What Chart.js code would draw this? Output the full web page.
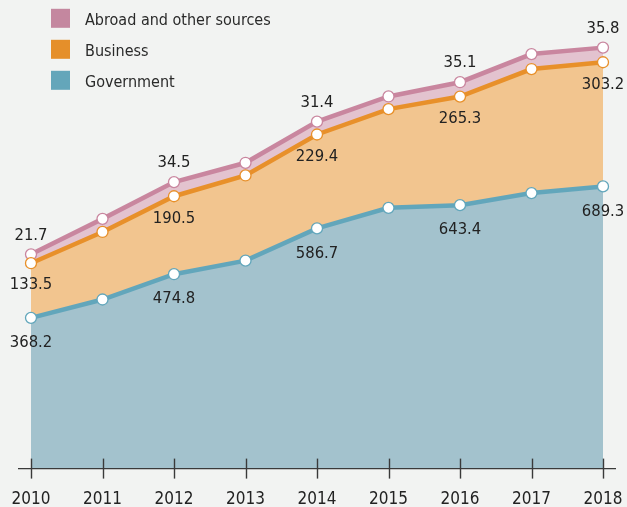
<!DOCTYPE html>
<html><head><meta charset="utf-8">
<style>html,body{margin:0;padding:0;background:#f2f3f2;} #wrap{width:627px;height:507px;position:relative;}</style>
<script src="https://cdn.jsdelivr.net/npm/chart.js@4.4.1/dist/chart.umd.min.js"></script>
</head><body><div id="wrap"><canvas id="c" width="627" height="507"></canvas></div>
<script>
const years = ['2010','2011','2012','2013','2014','2015','2016','2017','2018'];
const government = [368.2, 413, 474.8, 508, 586.7, 637, 643.4, 673, 689.3];
const business = [133.5, 165, 190.5, 208, 229.4, 241, 265.3, 303, 303.2];
const abroad = [21.7, 32, 34.5, 31, 31.4, 31, 35.1, 36.5, 35.8];
const seriesNames = ['Government', 'Business', 'Abroad and other sources'];
const labeledIdx = [0, 2, 4, 6, 8];

const FONT = "'Liberation Sans Narrow', 'DejaVu Sans Condensed', 'Liberation Sans', sans-serif";
const lineCols = ['#62a6bb', '#e8902a', '#c9869f'];
const areaCols = ['#a3c2cd', '#f2c58f', '#e3c3cf'];
const legendCols = ['#64a6ba', '#e58f2a', '#c4879f'];

function ds(label, data, i, fill) {
  return {
    label, data, fill,
    borderColor: lineCols[i], backgroundColor: areaCols[i],
    borderWidth: 4.5, pointRadius: 5.5, pointHoverRadius: 5.5,
    pointBackgroundColor: '#ffffff', pointBorderColor: lineCols[i], pointBorderWidth: 1.3,
    tension: 0, clip: false
  };
}

const extras = {
  id: 'extras',
  afterDatasetsDraw(chart) {
    const ctx = chart.ctx, xs = chart.scales.x, ca = chart.chartArea;
    ctx.save();
    ctx.strokeStyle = '#3a3a3a'; ctx.lineWidth = 1.4;
    ctx.beginPath(); ctx.moveTo(18, ca.bottom); ctx.lineTo(616, ca.bottom); ctx.stroke();
    years.forEach((y, i) => {
      const px = Math.round(xs.getPixelForTick(i)) + 0.5;
      ctx.beginPath(); ctx.moveTo(px, ca.bottom - 10); ctx.lineTo(px, ca.bottom + 10); ctx.stroke();
    });
    ctx.fillStyle = '#222'; ctx.font = '16.5px ' + FONT;
    ctx.textAlign = 'center'; ctx.textBaseline = 'middle';
    const offs = [25, 22, -19];
    [government, business, abroad].forEach((arr, d) => {
      const meta = chart.getDatasetMeta(d);
      labeledIdx.forEach(j => {
        const p = meta.data[j];
        ctx.fillText(arr[j].toFixed(1), p.x, p.y + offs[d]);
      });
    });
    ctx.font = '16px ' + FONT;
    const rows = [2, 1, 0];
    rows.forEach((d, r) => {
      const cy = 18.3 + r * 31;
      ctx.fillStyle = legendCols[d];
      ctx.fillRect(51, cy - 9.5, 19, 19);
      ctx.fillStyle = '#2a2a2a'; ctx.textAlign = 'left'; ctx.textBaseline = 'alphabetic';
      ctx.fillText(seriesNames[d], 85, cy + 7);
    });
    ctx.restore();
  }
};

new Chart(document.getElementById('c'), {
  type: 'line',
  data: {
    labels: years,
    datasets: [
      ds(seriesNames[0], government, 0, 'origin'),
      ds(seriesNames[1], business, 1, '-1'),
      ds(seriesNames[2], abroad, 2, '-1')
    ]
  },
  options: {
    responsive: false, animation: false, devicePixelRatio: 1,
    layout: { padding: { left: 31, right: 24, top: 0, bottom: -6 } },
    plugins: { legend: { display: false }, tooltip: { enabled: false } },
    scales: {
      x: {
        offset: false,
        grid: { display: true, drawOnChartArea: false, drawTicks: true, tickLength: 18, color: 'rgba(0,0,0,0)' },
        border: { display: false },
        ticks: { color: '#222', font: { size: 17, family: FONT }, padding: 3, maxRotation: 0, autoSkip: false }
      },
      y: { display: false, stacked: true, min: 0, max: 1128 }
    }
  },
  plugins: [extras]
});
</script></body></html>
